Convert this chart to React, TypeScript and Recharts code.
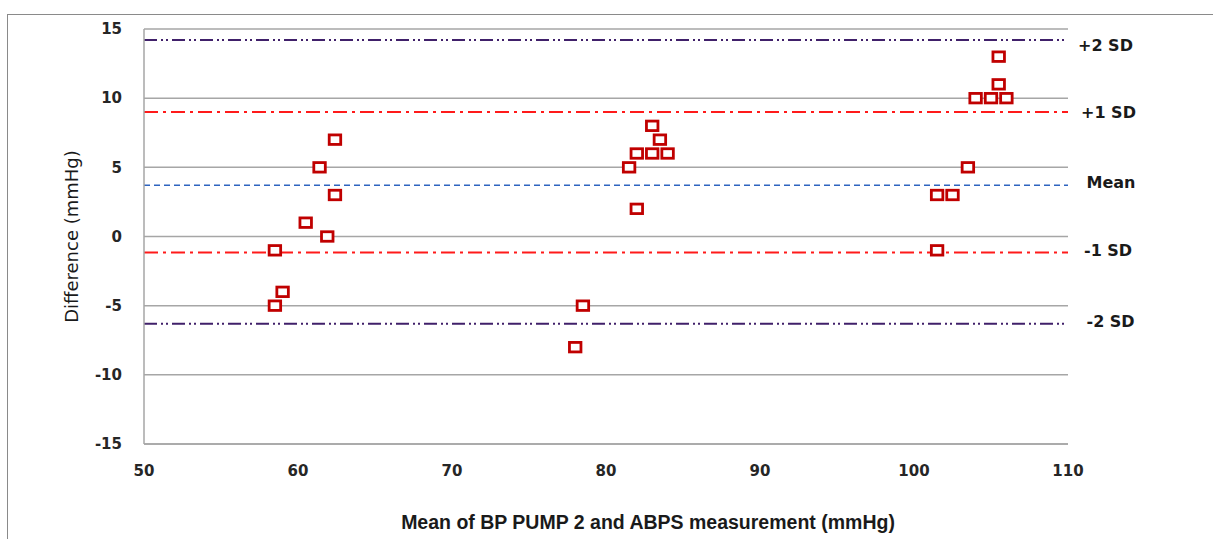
import { CartesianGrid, Label, ReferenceLine, Scatter, ScatterChart, XAxis, YAxis } from 'recharts';

// Bland-Altman: mean of the two methods vs difference
const meanValues = [
  62.4, 61.4, 62.4, 60.5, 61.9, 58.5, 59.0, 58.5,
  83.0, 83.5, 82.0, 83.0, 84.0, 81.5, 82.0, 78.5, 78.0,
  105.5, 105.5, 104.0, 105.0, 106.0, 103.5, 101.5, 102.5, 101.5,
];
const diffValues = [
  7, 5, 3, 1, 0, -1, -4, -5,
  8, 7, 6, 6, 6, 5, 2, -5, -8,
  13, 11, 10, 10, 10, 5, 3, 3, -1,
];

const xTicks = [50, 60, 70, 80, 90, 100, 110];
const yTicks = [-15, -10, -5, 0, 5, 10, 15];

const limitNames = ['+2 SD', '+1 SD', 'Mean', '-1 SD', '-2 SD'];
const limitValues = [14.2, 9.0, 3.7, -1.15, -6.3];

const points = meanValues.map((x, i) => ({ x, y: diffValues[i] }));

const lineStyles: Record<string, { stroke: string; dash: string; width: number; dx: number; dy: number }> = {
  '+2 SD': { stroke: '#40206a', dash: '13 4 2 3 2 4', width: 2, dx: 10, dy: 10.5 },
  '+1 SD': { stroke: '#ff1a1a', dash: '14 5 3 5', width: 2, dx: 13, dy: 5.5 },
  Mean: { stroke: '#2e64c0', dash: '6 4', width: 1.5, dx: 18.5, dy: 3 },
  '-1 SD': { stroke: '#ff1a1a', dash: '14 5 3 5', width: 2, dx: 16, dy: 4 },
  '-2 SD': { stroke: '#40206a', dash: '13 4 2 3 2 4', width: 2, dx: 18.5, dy: 3.5 },
};

const tickStyle = { fontFamily: 'DejaVu Sans', fontSize: 15, fontWeight: 700, fill: '#262626' };

function SquareMarker(props: any) {
  const { cx, cy } = props;
  if (cx == null || cy == null) return null;
  return <rect x={cx - 5.75} y={cy - 4.75} width={11.5} height={9.5} fill="#fff" stroke="#c00000" strokeWidth={2.8} />;
}

function sideLabel(text: string, dx: number, dy: number) {
  return (props: any) => {
    const vb = props.viewBox || {};
    return (
      <text
        x={(vb.x ?? 0) + (vb.width ?? 0) + dx}
        y={(vb.y ?? 0) + dy}
        fontFamily="DejaVu Sans"
        fontSize={16}
        fontWeight={700}
        fill="#1a1a1a"
        textAnchor="start"
      >
        {text}
      </text>
    );
  };
}

export default function App() {
  return (
    <div style={{ position: 'relative', width: 1213, height: 539, overflow: 'hidden', background: '#fff' }}>
      <style>{'body{margin:0}'}</style>
      <div
        style={{
          position: 'absolute',
          left: 7,
          top: 14,
          width: 1230,
          height: 600,
          borderTop: '1.5px solid #8a8a8a',
          borderLeft: '1.5px solid #8a8a8a',
        }}
      />
      <div style={{ position: 'absolute', left: 0, top: 0 }}>
        <ScatterChart width={1213} height={539} margin={{ top: 29, right: 145, bottom: 0, left: 0 }}>
          <CartesianGrid vertical={false} stroke="#a6a6a6" strokeWidth={1.5} />
          <XAxis
            type="number"
            dataKey="x"
            domain={[50, 110]}
            ticks={xTicks}
            height={95}
            axisLine={{ stroke: '#a6a6a6', strokeWidth: 1.5 }}
            tickLine={false}
            tickMargin={15}
            tick={tickStyle}
          >
            <Label
              value="Mean of BP PUMP 2 and ABPS measurement (mmHg)"
              position="insideBottom"
              offset={10}
              dx={42}
              style={{ fontFamily: 'Liberation Sans', fontSize: 19.5, fontWeight: 700, fill: '#1a1a1a' }}
            />
          </XAxis>
          <YAxis
            type="number"
            dataKey="y"
            domain={[-15, 15]}
            ticks={yTicks}
            width={144}
            axisLine={{ stroke: '#a6a6a6', strokeWidth: 1.5 }}
            tickLine={false}
            tickMargin={16}
            tick={tickStyle}
          >
            <Label
              value="Difference (mmHg)"
              angle={-90}
              position="center"
              style={{ fontFamily: 'DejaVu Sans', fontSize: 18, fill: '#1a1a1a', textAnchor: 'middle' }}
            />
          </YAxis>
          {limitNames.map((name, i) => {
            const s = lineStyles[name];
            return (
              <ReferenceLine
                key={name}
                y={limitValues[i]}
                stroke={s.stroke}
                strokeDasharray={s.dash}
                strokeWidth={s.width}
                label={{ content: sideLabel(name, s.dx, s.dy) } as any}
                ifOverflow="visible"
              />
            );
          })}
          <Scatter data={points} shape={SquareMarker} isAnimationActive={false} />
        </ScatterChart>
      </div>
    </div>
  );
}
